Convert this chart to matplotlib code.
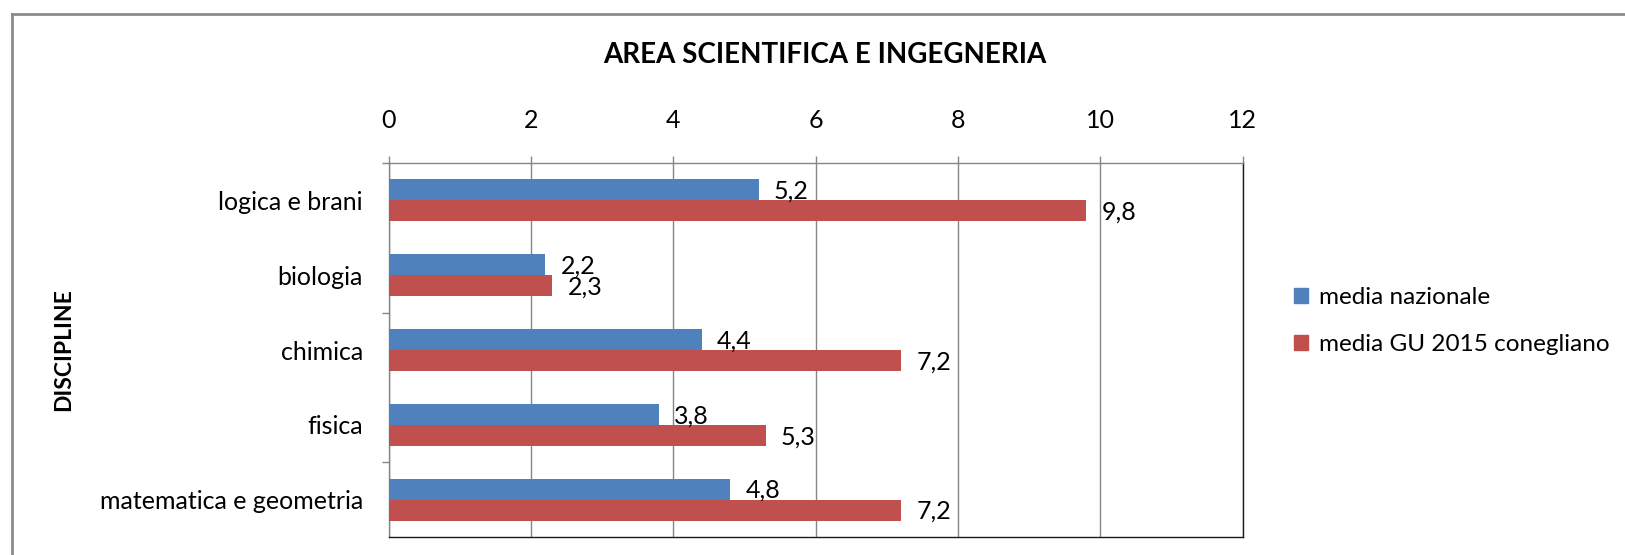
import matplotlib
matplotlib.use("Agg")
from matplotlib import pyplot as plt
from matplotlib.lines import Line2D
from matplotlib.patches import Patch
import numpy as np

categories = ["logica e brani", "biologia", "chimica", "fisica", "matematica e geometria"]
media_nazionale = [5.2, 2.2, 4.4, 3.8, 4.8]
media_gu = [9.8, 2.3, 7.2, 5.3, 7.2]
series_labels = ["media nazionale", "media GU 2015 conegliano"]
x_ticks = [0, 2, 4, 6, 8, 10, 12]

BLUE = "#4F81BD"
RED = "#C0504D"
GRID = "#868686"

plt.rcParams["font.family"] = ["Lato", "DejaVu Sans"]


def fmt(v):
    return f"{v:.1f}".replace(".", ",")


def main():
    fig = plt.figure(figsize=(16.25, 5.55), dpi=100)
    ax = fig.add_axes([0.2391, 0.0324, 0.5256, 0.6739])

    y = np.arange(len(categories))
    h = 0.28
    ax.barh(y - h / 2, media_nazionale, height=h, color=BLUE, zorder=3)
    ax.barh(y + h / 2, media_gu, height=h, color=RED, zorder=3)

    for yi, v in zip(y, media_nazionale):
        ax.annotate(fmt(v), (v, yi - h / 2), xytext=(11, -1), textcoords="offset points",
                    ha="left", va="center", fontsize=18)
    for yi, v in zip(y, media_gu):
        ax.annotate(fmt(v), (v, yi + h / 2), xytext=(11, -1), textcoords="offset points",
                    ha="left", va="center", fontsize=18)

    ax.set_xlim(0, 12)
    ax.set_ylim(len(categories) - 0.5, -0.5)
    ax.xaxis.tick_top()
    ax.set_xticks(x_ticks)
    ax.set_xticklabels([str(t) for t in x_ticks])
    ax.tick_params(axis="x", direction="out", length=5, width=1, color=GRID,
                   labelsize=18, pad=17)
    ax.grid(axis="x", color=GRID, linewidth=1, zorder=0)

    # category boundaries get a tick every second one, labels sit at centers
    ax.set_yticks([-0.5, 1.5, 3.5])
    ax.set_yticklabels([])
    ax.set_yticks(y, minor=True)
    ax.set_yticklabels(categories, minor=True)
    ax.tick_params(axis="y", which="major", direction="out", length=5, width=1, color=GRID)
    ax.tick_params(axis="y", which="minor", length=0, labelsize=18, pad=18.5)

    ax.spines["top"].set_color(GRID)
    ax.spines["left"].set_color(GRID)
    ax.spines["bottom"].set_color("#1a1a1a")
    ax.spines["right"].set_color("#1a1a1a")
    for s in ax.spines.values():
        s.set_linewidth(1)

    fig.text(0.5075, 1 - 55 / 555, "AREA SCIENTIFICA E INGEGNERIA", ha="center", va="center",
             fontsize=20, fontweight="bold")
    fig.text(0.039, 1 - 350 / 555, "DISCIPLINE", ha="center", va="center", rotation=90,
             fontsize=16.5, fontweight="bold")

    handles = [Patch(color=BLUE), Patch(color=RED)]
    fig.legend(handles, series_labels, loc="center left", bbox_to_anchor=(0.789, 1 - 321 / 555),
               frameon=False, fontsize=17.5, handlelength=0.55, handleheight=0.55,
               handletextpad=0.45, labelspacing=1.07, borderpad=0)

    # outer chart frame (only top and left edges visible)
    fig.add_artist(Line2D([0.0074, 1.0], [0.9739, 0.9739], color="#8c8c8c", linewidth=2,
                          transform=fig.transFigure))
    fig.add_artist(Line2D([0.0074, 0.0074], [0.0, 0.9739], color="#8c8c8c", linewidth=2,
                          transform=fig.transFigure))

    fig.savefig("out.png", dpi=100, facecolor="white")


if __name__ == "__main__":
    main()
